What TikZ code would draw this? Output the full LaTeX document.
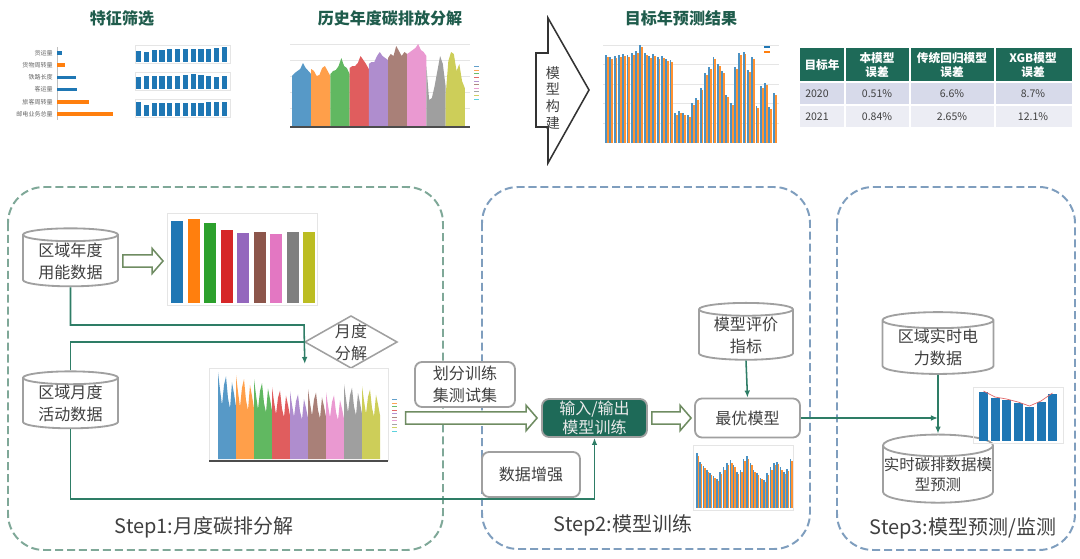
\documentclass[tikz,border=0pt]{standalone}
\usepackage{fontspec}
\setmainfont{Noto Sans CJK SC}
\usetikzlibrary{calc,shapes.geometric,arrows.meta}

\definecolor{tabblue}{HTML}{1F77B4}
\definecolor{taborange}{HTML}{FF7F0E}
\definecolor{tabgreen}{HTML}{2CA02C}
\definecolor{tabred}{HTML}{D62728}
\definecolor{tabpurple}{HTML}{9467BD}
\definecolor{tabbrown}{HTML}{8C564B}
\definecolor{tabpink}{HTML}{E377C2}
\definecolor{tabgray}{HTML}{7F7F7F}
\definecolor{tabolive}{HTML}{BCBD22}
\definecolor{tabcyan}{HTML}{17BECF}
\definecolor{deepgreen}{HTML}{1E6A58}
\definecolor{titlegreen}{HTML}{1F5C4C}
\definecolor{linkgreen}{HTML}{2E7D66}
\definecolor{hollowgreen}{HTML}{6F8C62}
\definecolor{boxgray}{HTML}{A0A0A0}
\definecolor{textgray}{HTML}{404040}
\definecolor{stepgreen}{HTML}{7FA898}
\definecolor{stepblue}{HTML}{7F9EBE}
\definecolor{rowa}{HTML}{D7DAEA}
\definecolor{rowb}{HTML}{ECEDF4}

\def\px{0.025cm}
\newcommand\hollowarrow[2]{%
  \draw[hollow] let \p1=(#1), \p2=(#2) in
    (\x1,\y1+4.3pt) -- (\x2-7.8pt,\y1+4.3pt) -- (\x2-7.8pt,\y1+9pt) -- (\x2,\y1)
    -- (\x2-7.8pt,\y1-9pt) -- (\x2-7.8pt,\y1-4.3pt) -- (\x1,\y1-4.3pt) -- cycle;}

\tikzset{
  txt/.style={font=\fontsize{11.4pt}{15.6pt}\selectfont, text=textgray, align=center, inner sep=0pt},
  db/.style={txt, cylinder, shape border rotate=90, aspect=0.2, draw=boxgray, line width=1.3pt, fill=white},
  procbox/.style={txt, rectangle, rounded corners=5pt, draw=boxgray, line width=1.3pt, fill=white},
  stepframe/.style={line width=1.4pt, dash pattern=on 5.7pt off 2.8pt, rounded corners=0.9cm},
  steplabel/.style={font=\fontsize{14.2pt}{17pt}\selectfont, text=textgray, inner sep=0pt},
  heading/.style={font=\fontsize{11.4pt}{13pt}\selectfont\bfseries, text=titlegreen, inner sep=0pt},
  thead/.style={font=\fontsize{8.3pt}{9.4pt}\selectfont\bfseries, text=white, align=center, inner sep=0pt},
  tcell/.style={font=\fontsize{7.5pt}{9pt}\selectfont, text=textgray, inner sep=0pt},
  tinylab/.style={font=\fontsize{4.3pt}{5pt}\selectfont, text=black!60, inner sep=0pt},
  chart/.style={inner sep=0pt},
  gridline/.style={draw=black!10, line width=0.3pt},
  link/.style={draw=linkgreen, line width=1.1pt},
  tip/.style={-{Latex[length=5pt,width=4pt]}},
  hollow/.style={draw=hollowgreen, line width=1.1pt, fill=white, line join=miter}
}

\begin{document}
\begin{tikzpicture}[x=0.025cm, y=-0.025cm]
  \useasboundingbox (0,0) rectangle (1080,559);

  %%%%% TOP ROW %%%%%

  \node[heading] (t1) at (122,18) {特征筛选};
  \node[heading] (t2) at (390,18) {历史年度碳排放分解};
  \node[heading] (t3) at (681,18) {目标年预测结果};

  % feature ranking
  \draw[black!25, line width=0.4pt] (57,47) -- (57,120);
  \foreach \lab/\len/\col [count=\i] in {货运量/5/tabblue, 货物周转量/8/taborange, 铁路长度/19/tabblue, 客运量/20/tabblue, 旅客周转量/32/taborange, 邮电业务总量/56/taborange}{
    \node[tinylab, anchor=east] (f\i) at (53,{40.8+12.2*\i}) {\lab};
    \fill[\col] (57,{39+12.2*\i}) rectangle ++(\len,3.6);
  }

  % three monthly bar charts
  \foreach \ytop/\hs [count=\k] in {45/{.75,.7,.8,.8,.9,.88,.88,.9,.88,.88,.92,1}, 72/{.8,.85,.87,.87,.87,.85,.95,1,.92,.9,.82,.85}, 99/{.95,.72,.85,.9,.9,.9,.88,.85,.88,.92,.95,.92}}{
    \node[chart, anchor=north west, minimum width=95*\px, minimum height=18*\px] (m\k) at (135,\ytop) {};
    \draw[gridline] (m\k.north west) rectangle (m\k.south east);
    \foreach \h [count=\j] in \hs
      \fill[tabblue] ({136+(\j-1)*7.8},{\ytop+17}) rectangle ++(5.2,{-15*\h});
  }

  % historic decomposition
  \node[chart, anchor=north west, minimum width=195*\px, minimum height=90*\px] (hist) at (288,38) {};
  \foreach \gy in {44,60,76,92,108} \draw[gridline] (290,\gy) -- (470,\gy);
  \foreach \col/\hs [count=\i] in {tabblue/{50,53,55,57,63,58,55,52}, taborange/{57,55,50,51,58,60,55,50}, tabgreen/{52,55,56,60,68,60,58,52}, tabred/{58,60,60,63,70,66,62,57}, tabpurple/{62,64,64,70,74,70,68,66}, tabbrown/{68,72,70,80,75,70,74,72}, tabpink/{72,74,76,78,82,76,74,70}, tabgray/{60,26,28,40,55,70,62,40}, tabolive/{30,65,74,72,55,62,45,38}}
    \fill[\col!75] ({292+(\i-1)*19.2},126) \foreach \h [count=\j] in \hs {-- ({292+(\i-1)*19.2+(\j-1)*2.74},{126-\h})} -- ({292+\i*19.2},126) -- cycle;
  \draw[black!70, line width=0.8pt] (290,127) -- (470,127);
  \foreach \col [count=\i] in {tabblue,taborange,tabgreen,tabred,tabpurple,tabbrown,tabpink,tabgray,tabolive,tabcyan}
    \draw[\col!70, line width=0.7pt] (474,{63+3.6*\i}) -- ++(5,0);

  % model building arrow
  \draw[black!80, line width=1.1pt] (536,53) -- (548,53) -- (548,18) -- (589,90) -- (548,163) -- (548,127) -- (536,127) -- cycle;
  \node[font=\fontsize{10pt}{11.9pt}\selectfont, text=black!75, align=center, inner sep=0pt] (build) at (553,98) {模\\型\\构\\建};

  % target year forecast
  \node[chart, anchor=north west, minimum width=178*\px, minimum height=105*\px] (fore) at (602,40) {};
  \foreach \gy in {45,64,84,103,123} \draw[gridline] (603,\gy) -- (779,\gy);
  \foreach \h [count=\i] in {88,86,87,88,89,88,90,92,98,90,87,89,86,87,84,83,30,32,30,28,40,45,55,70,76,86,79,72,48,40,76,90,91,73,86,37,57,60,36,50}{
    \fill[tabblue!80] ({605+(\i-1)*4.3},143) rectangle ++(1.9,-\h);
    \fill[taborange!85] ({606.9+(\i-1)*4.3},143) rectangle ++(1.9,{2-\h});
  }
  \fill[tabblue] (764,46) rectangle ++(6,2);
  \fill[taborange] (764,51) rectangle ++(6,2);

  % error table
  \fill[deepgreen] (800,48) rectangle (1072,82);
  \fill[rowa] (800,82) rectangle (1072,105);
  \fill[rowb] (800,105) rectangle (1072,127);
  \foreach \cx in {845,910,995} \draw[white, line width=0.8pt] (\cx,48) -- (\cx,127);
  \foreach \cy in {82,105} \draw[white, line width=0.8pt] (800,\cy) -- (1072,\cy);
  \node[thead] (h1) at (822,65) {目标年};
  \node[thead] (h2) at (877,65) {本模型\\误差};
  \node[thead] (h3) at (952,65) {传统回归模型\\误差};
  \node[thead] (h4) at (1033,65) {XGB模型\\误差};
  \foreach \yr/\va/\vb/\vc [count=\r] in {2020/0.51\%/6.6\%/8.7\%, 2021/0.84\%/2.65\%/12.1\%}{
    \node[tcell, anchor=west] (y\r) at (805,{70.5+23*\r}) {\yr};
    \node[tcell] (a\r) at (877,{70.5+23*\r}) {\va};
    \node[tcell] (b\r) at (952,{70.5+23*\r}) {\vb};
    \node[tcell] (c\r) at (1033,{70.5+23*\r}) {\vc};
  }

  %%%%% STEPS %%%%%

  \draw[stepframe, draw=stepgreen] (8,187) rectangle (443,550);
  \draw[stepframe, draw=stepblue] (482,187) rectangle (810,549);
  \draw[stepframe, draw=stepblue] (837,187) rectangle (1075,550);

  \node[steplabel] (s1) at (204,527) {Step1:月度碳排分解};
  \node[steplabel] (s2) at (623,525) {Step2:模型训练};
  \node[steplabel] (s3) at (963,528) {Step3:模型预测/监测};

  % step 1
  \node[db, minimum width=95*\px, minimum height=58*\px] (c1) at (70.5,261) {区域年度\\用能数据};
  \node[db, minimum width=95*\px, minimum height=53*\px] (c2) at (70.5,403.5) {区域月度\\活动数据};

  \node[chart, anchor=north west, minimum width=150*\px, minimum height=92*\px] (annual) at (167,213) {};
  \draw[gridline] (annual.north west) rectangle (annual.south east);
  \foreach \col/\t [count=\i] in {tabblue/221, taborange/219, tabgreen/223, tabred/230, tabpurple/233, tabbrown/232, tabpink/234, tabgray/232, tabolive/232}
    \fill[\col] ({171+(\i-1)*16.5},303) rectangle ++(12,{\t-303});

  \node[txt] (dec) at (351,342) {月度\\分解};
  \draw[boxgray, line width=1.1pt] (dec.center) +(0,-26) -- +(46,0) -- +(0,26) -- +(-46,0) -- cycle;

  \node[chart, anchor=north west, minimum width=195*\px, minimum height=98*\px] (area) at (207,364) {};
  \draw[gridline] (209,368) rectangle (388,460);
  \foreach \col/\h [count=\i] in {tabblue/87, taborange/84, tabgreen/80, tabred/72, tabpurple/68, tabbrown/70, tabpink/67, tabgray/75, tabolive/73}
    \fill[\col!75] ({218+(\i-1)*18},459) \foreach \f [count=\j] in {1,.8,.62,.85,.95,.7,.58,.88,.75,.6} {-- ({218+(\i-1)*18+(\j-1)*2},{459-\f*\h})} -- ({218+\i*18},459) -- cycle;
  \draw[black!70, line width=0.8pt] (209,461) -- (388,461);
  \foreach \col [count=\i] in {tabblue,taborange,tabgreen,tabred,tabpurple,tabbrown,tabpink,tabgray,tabolive,tabcyan}
    \draw[\col!70, line width=0.6pt] (392,{396+3.5*\i}) -- ++(5,0);

  % step 2
  \node[procbox, minimum width=100*\px, minimum height=45*\px] (split) at (465,384.5) {划分训练\\集测试集};
  \node[procbox, fill=deepgreen, text=black!8, font=\fontsize{11.4pt}{13.5pt}\selectfont, minimum width=105*\px, minimum height=38*\px] (train) at (594.5,418) {输入/输出\\模型训练};
  \node[procbox, minimum width=98*\px, minimum height=45*\px] (aug) at (531,474.5) {数据增强};
  \node[procbox, minimum width=105*\px, minimum height=39*\px] (best) at (747.5,418) {最优模型};
  \node[db, minimum width=94*\px, minimum height=54*\px] (eval) at (746,335) {模型评价\\指标};

  \node[chart, anchor=north west, minimum width=100*\px, minimum height=65*\px] (bestbar) at (693,445) {};
  \draw[gridline] (bestbar.north west) rectangle (bestbar.south east);
  \foreach \f [count=\i] in {.95,.8,.72,.65,.6,.55,.5,.62,.7,.78,.82,.75,.62,.66,.85,.9,.78,.65,.6,.52,.48,.6,.7,.78,.8,.7,.62,.68,.85}{
    \fill[tabblue!80] ({696+(\i-1)*3.35},508) rectangle ++(1.5,{-58*\f});
    \fill[taborange!85] ({697.5+(\i-1)*3.35},508) rectangle ++(1.5,{-55*\f});
  }

  % step 3
  \node[db, minimum width=111*\px, minimum height=51*\px] (rt) at (938,347.5) {区域实时电\\力数据};
  \node[db, inner xsep=0pt, font=\fontsize{11pt}{14.5pt}\selectfont, minimum width=110*\px, minimum height=55*\px] (pred) at (938,474.5) {实时碳排数据模\\型预测};

  \node[chart, anchor=north west, minimum width=90*\px, minimum height=56*\px] (rtbar) at (973,387) {};
  \draw[gridline] (rtbar.north west) rectangle (rtbar.south east);
  \foreach \t [count=\i] in {392,398,400,403,407,402,394}
    \fill[tabblue] ({979+(\i-1)*11.5},441) rectangle ++(9,{\t-441});
  \draw[tabred!70, line width=0.5pt] (983.5,391) -- (995,397) -- (1006.5,399) -- (1018,402) -- (1029.5,406) -- (1041,401) -- (1052.5,393);

  %%%%% CONNECTORS %%%%%

  \coordinate (fork) at (304,325);
  \coordinate (join) at (304,342);
  \draw[link, tip] (c1.south) |- (fork) -- (area.north);
  \draw[link] (c2.north) |- (join);
  \draw[link, tip] (c2.south) |- ($(train.south)+(0,61)$) -- (train.south);
  \draw[link, tip] (eval.south) -- (best.north);
  \draw[link, tip] (best.east) -- (best.east -| rt.south);
  \draw[link, tip] (rt.south) -- (pred.north);

  \hollowarrow{$(c1.east)+(4,0)$}{$(annual.west)+(-4,0)$}
  \hollowarrow{$(area.east |- train.west)+(3,0)$}{$(train.west)+(-4,0)$}
  \hollowarrow{$(train.east)+(4,0)$}{$(best.west)+(-3,0)$}

\end{tikzpicture}
\end{document}
